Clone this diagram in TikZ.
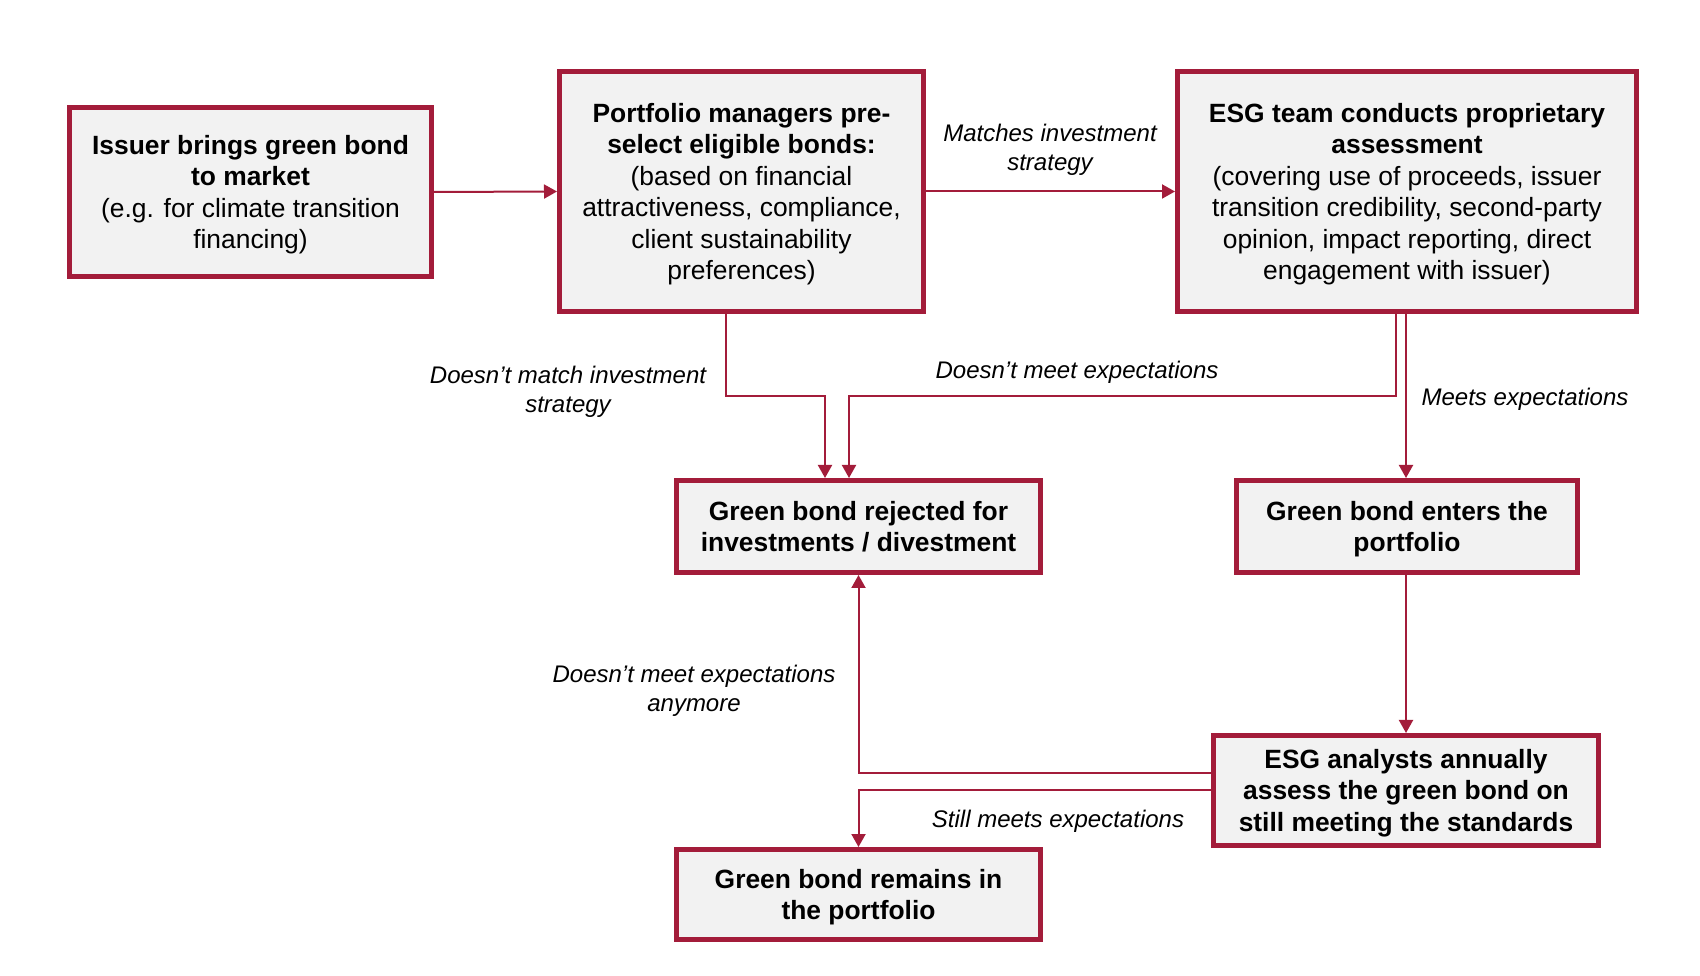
\documentclass[tikz,border=0pt]{standalone}
\usepackage{fontspec}
\setmainfont{Liberation Sans}
\usetikzlibrary{arrows.meta}
\definecolor{BondRed}{HTML}{A31C3A}
\definecolor{BoxGrey}{HTML}{F2F2F2}
\newcommand{\firstline}[1]{\rule{0pt}{24.5pt}\textbf{#1}}

\begin{document}
\begin{tikzpicture}[x=1pt, y=1pt,
    box/.style={draw=BondRed, fill=BoxGrey, line width=5pt, align=center,
                inner sep=0pt, font=\fontsize{26.4}{31.4}\selectfont,
                execute at end node={\rule[-5.6pt]{0pt}{0pt}}},
    flowlabel/.style={align=center, font=\fontsize{24}{29.3}\selectfont\itshape},
    flow/.style={draw=BondRed, line width=2pt, -{Triangle[length=13pt,width=14pt]}}]
  \useasboundingbox (0,0) rectangle (1700,975);
  % boxes
  \node[box, minimum width=362pt, minimum height=169pt] (issuer) at (250.5,783) {
      \firstline{Issuer brings green bond}\\\textbf{to market}\\(e.g. for climate transition\\financing)};
  \node[box, minimum width=364pt, minimum height=240pt] (pm) at (741.5,783.5) {
      \firstline{Portfolio managers pre-}\\\textbf{select eligible bonds:}\\(based on financial\\attractiveness, compliance,\\client sustainability\\preferences)};
  \node[box, minimum width=459pt, minimum height=240pt] (esg) at (1407,783.5) {
      \firstline{ESG team conducts proprietary}\\\textbf{assessment}\\(covering use of proceeds, issuer\\transition credibility, second-party\\opinion, impact reporting, direct\\engagement with issuer)};
  \node[box, minimum width=364pt, minimum height=92pt] (reject) at (858.5,448.5) {
      \firstline{Green bond rejected for}\\\textbf{investments / divestment}};
  \node[box, minimum width=341pt, minimum height=92pt] (enters) at (1407,448.5) {
      \firstline{Green bond enters the}\\\textbf{portfolio}};
  \node[box, minimum width=385pt, minimum height=110pt] (annual) at (1406,184.5) {
      \firstline{ESG analysts annually}\\\textbf{assess the green bond on}\\\textbf{still meeting the standards}};
  \node[box, minimum width=364pt, minimum height=90pt] (remains) at (858.5,80.5) {
      \firstline{Green bond remains in}\\\textbf{the portfolio}};
  % connectors
  \draw[flow] (issuer.east) -- (pm.west);
  \draw[flow] (pm.east) -- (esg.west);
  \draw[flow] ([xshift=-15.5pt]pm.south) |- (825,579) -- ([xshift=-33.5pt]reject.north);
  \draw[flow] ([xshift=-11pt]esg.south) |- (849,579) -- ([xshift=-9.5pt]reject.north);
  \draw[flow] ([xshift=-1pt]esg.south) -- ([xshift=-1pt]enters.north);
  \draw[flow] ([xshift=-1pt]enters.south) -- (annual.north);
  \draw[flow] ([yshift=17.5pt]annual.west) -| (reject.south);
  \draw[flow] (annual.west) -| (remains.north);
  % labels
  \node[flowlabel] (lmatch) at (1050,825) {Matches investment\\strategy};
  \node[flowlabel] (lnomatch) at (568,583) {Doesn’t match investment\\strategy};
  \node[flowlabel] (lnomeet) at (1077,603) {Doesn’t meet expectations};
  \node[flowlabel] (lmeet) at (1525,576) {Meets expectations};
  \node[flowlabel] (lanymore) at (694,284) {Doesn’t meet expectations\\anymore};
  \node[flowlabel] (lstill) at (1058,154) {Still meets expectations};
\end{tikzpicture}
\end{document}
